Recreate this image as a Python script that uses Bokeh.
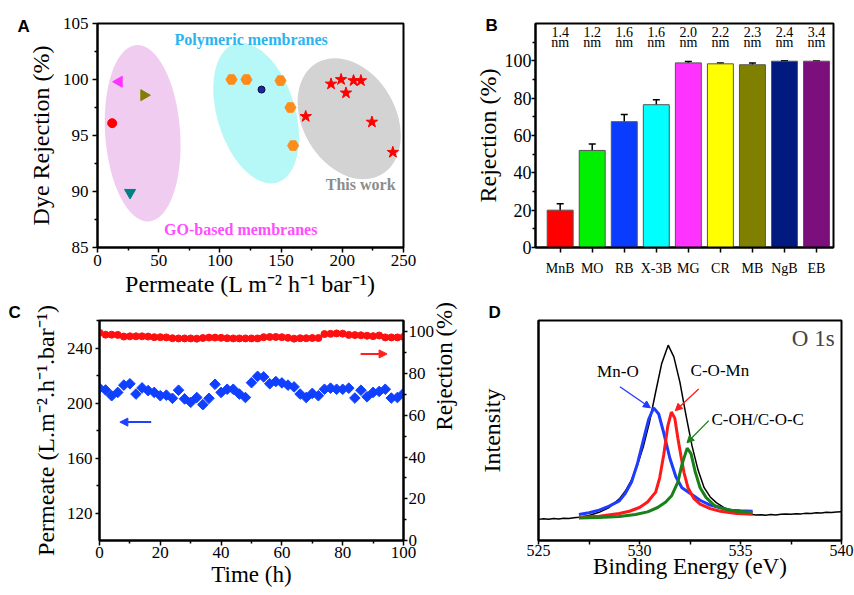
import math
from bokeh.plotting import figure
from bokeh.layouts import row, column
from bokeh.models import (Range1d, LinearAxis, FixedTicker, Label, Arrow, NormalHead,
                          Whisker, ColumnDataSource)
from bokeh.core.properties import value
from bokeh.embed import file_html
from bokeh.resources import INLINE

SERIF = "Liberation Serif"
SANS = "Liberation Sans"

# ---------------- Panel A data ----------------
go_permeate = [12.0, 17.6, 38.0, 26.6]
go_rejection = [96.1, 99.8, 98.6, 89.9]
poly_permeate = [109.5, 121.7, 149.5, 157.6, 159.8]
poly_rejection = [100.0, 100.0, 99.9, 97.5, 94.1]
sphere_permeate = [134.0]
sphere_rejection = [99.1]
work_permeate = [170.1, 190.8, 199.0, 203.0, 209.2, 215.2, 224.2, 241.3]
work_rejection = [96.7, 99.6, 100.0, 98.8, 99.9, 99.9, 96.2, 93.5]
region_x = [36.9, 129.6, 205.6]
region_y = [95.2, 97.0, 96.5]

# ---------------- Panel B data ----------------
dyes = ["MnB", "MO", "RB", "X-3B", "MG", "CR", "MB", "NgB", "EB"]
dye_sizes = ["1.4", "1.2", "1.6", "1.6", "2.0", "2.2", "2.3", "2.4", "3.4"]
dye_rejection = [20.0, 52.0, 67.4, 76.5, 98.9, 98.4, 97.9, 99.8, 99.8]
dye_error = [3.4, 3.4, 3.8, 2.6, 0.8, 0.5, 1.0, 0.3, 0.1]
dye_colors = ["#FF0000", "#00F000", "#0A3CFF", "#00FFFF", "#FF33FF",
              "#FFFF00", "#808000", "#001A80", "#7B0F7B"]

# ---------------- Panel C data ----------------
time_h = list(range(0, 101, 2))
permeate_c = [210.8, 209.5, 205.3, 207.7, 213.0, 214.0, 206.5, 211.0, 209.0, 207.7,
              205.3, 205.7, 203.4, 209.3, 203.0, 200.5, 204.0, 198.8, 203.4, 213.6,
              207.7, 210.0, 210.0, 206.5, 204.0, 214.8, 219.4, 219.0, 214.0, 215.6,
              214.6, 213.0, 211.7, 206.5, 204.0, 207.0, 205.3, 210.0, 210.8, 210.0,
              210.0, 210.8, 203.6, 209.3, 204.5, 207.7, 208.4, 210.0, 203.6, 204.0,
              207.0]
rejection_c = [99.6, 98.7, 98.7, 98.6, 97.8, 97.9, 97.9, 97.9, 97.8, 97.5,
               97.5, 97.4, 97.0, 96.9, 96.9, 96.9, 96.8, 97.1, 97.3, 97.3,
               97.2, 97.0, 96.9, 96.9, 96.9, 96.9, 96.9, 97.5, 97.6, 97.6,
               97.5, 97.2, 96.8, 97.0, 97.0, 97.1, 97.1, 99.0, 99.1, 99.3,
               99.2, 98.6, 98.5, 98.4, 98.2, 98.0, 98.3, 97.4, 97.4, 97.4,
               97.6]

# ---------------- Panel D data ----------------
be_total = [525.0, 525.25, 525.5, 525.75, 526.0, 526.25, 526.5, 526.75, 527.0, 527.5,
            528.0, 528.5, 529.0, 529.3, 529.6, 529.9, 530.2, 530.5, 530.8, 531.1,
            531.42, 531.7, 532.0, 532.3, 532.6, 532.9, 533.2, 533.5, 533.8, 534.2,
            534.6, 535.0, 535.5, 535.75, 536.0, 536.25, 536.5, 536.75, 537.0, 537.25,
            537.5, 537.75, 538.0, 538.25, 538.5, 538.75, 539.0, 539.25, 539.5, 539.75, 540.0]
int_total = [9.6, 9.9, 9.7, 10.0, 9.8, 10.1, 10.0, 10.3, 10.6, 11.4,
             12.8, 15.0, 18.9, 22.5, 27.5, 34.3, 43.0, 54.0, 67.5, 80.5,
             88.8, 83.5, 72.0, 57.0, 43.0, 32.0, 24.0, 19.8, 17.2, 14.8,
             13.3, 12.5, 11.9, 11.6, 11.7, 11.5, 11.8, 11.6, 11.9, 12.1,
             11.9, 12.2, 12.1, 12.4, 12.3, 12.6, 12.5, 12.8, 12.7, 13.0, 13.1]
be_mno = [527.0, 527.5, 528.0, 528.5, 529.0, 529.3, 529.6, 529.9, 530.2, 530.45,
          530.7, 530.95, 531.2, 531.5, 531.8, 532.1, 532.5, 533.0, 533.5, 534.0,
          534.5, 535.0, 535.6]
int_mno = [11.8, 12.6, 13.8, 15.6, 18.0, 21.5, 26.5, 35.0, 46.0, 55.0,
           60.3, 57.5, 48.9, 37.5, 29.0, 24.0, 21.5, 18.3, 16.1, 14.9,
           13.8, 13.5, 13.3]
be_comn = [527.0, 528.0, 529.0, 529.5, 530.0, 530.4, 530.8, 531.0, 531.2, 531.4,
           531.58, 531.75, 531.9, 532.05, 532.2, 532.4, 532.7, 533.0, 533.5, 534.0,
           534.8, 535.6]
int_comn = [10.4, 11.0, 12.3, 13.3, 15.0, 17.5, 22.0, 28.5, 39.0, 52.0,
            58.4, 55.5, 46.5, 38.5, 31.0, 24.0, 19.0, 16.5, 14.5, 13.3,
            12.3, 11.9]
be_coh = [527.0, 528.0, 529.0, 529.8, 530.4, 530.9, 531.3, 531.6, 531.9, 532.1,
          532.36, 532.55, 532.75, 533.0, 533.3, 533.7, 534.2, 534.8, 535.6]
int_coh = [10.2, 10.4, 10.9, 11.8, 13.0, 15.0, 17.5, 20.5, 26.5, 34.5,
           42.0, 39.5, 31.5, 24.0, 19.5, 16.0, 14.3, 13.3, 12.7]


def style_axis(ax, ticks, minor, size, tick_out=5, minor_out=3, lstand=3, tstand=3,
               title_size="24px"):
    ax.ticker = FixedTicker(ticks=ticks, minor_ticks=minor)
    ax.axis_line_color = "black"
    ax.axis_line_width = 2
    ax.major_tick_line_color = "black"
    ax.major_tick_line_width = 1.5
    ax.major_tick_in = 0
    ax.major_tick_out = tick_out
    ax.minor_tick_line_color = "black"
    ax.minor_tick_line_width = 1.5
    ax.minor_tick_in = 0
    ax.minor_tick_out = minor_out
    ax.major_label_text_font = SERIF
    ax.major_label_text_font_size = size
    ax.major_label_text_color = "black"
    ax.major_label_standoff = lstand
    ax.axis_label_text_font = SERIF
    ax.axis_label_text_font_style = "normal"
    ax.axis_label_text_font_size = title_size
    ax.axis_label_text_color = "black"
    ax.axis_label_standoff = tstand


def base_fig(w, h, xr, yr, l, r, t, b):
    p = figure(width=w, height=h, x_range=xr, y_range=yr, output_backend="svg",
               toolbar_location=None, min_border_left=l, min_border_right=r,
               min_border_top=t, min_border_bottom=b)
    p.grid.visible = False
    p.outline_line_color = "black"
    p.outline_line_width = 2
    p.outline_line_alpha = 1.0
    p.background_fill_color = "white"
    return p


def panel_letter(p, text, offset, standoff, valign="bottom"):
    p.title.text = text
    p.title.align = "left"
    p.title.vertical_align = valign
    p.title.offset = offset
    p.title.standoff = standoff
    p.title.text_font = SANS
    p.title.text_font_style = "bold"
    p.title.text_font_size = "17px"
    p.title.text_color = "black"

# ======================= Panel A =======================
pA = base_fig(427, 303, Range1d(0, 250), Range1d(85, 105), 97, 24, 22, 56)
pA.ellipse(x=region_x, y=region_y, width=[75, 78, 93], height=[177, 145, 129],
           angle=[math.radians(4), math.radians(17), math.radians(30)],
           width_units="screen", height_units="screen",
           fill_color=["#F1CCF1", "#B6F7F7", "#D3D3D3"], line_color=None)
pA.scatter(go_permeate[:1], go_rejection[:1], marker="circle", size=9, color="#FF0000")
pA.scatter(go_permeate[1:2], go_rejection[1:2], marker="triangle", angle=math.pi / 2,
           size=11, color="#FF33FF")
pA.scatter(go_permeate[2:3], go_rejection[2:3], marker="triangle", angle=-math.pi / 2,
           size=11, color="#808000")
pA.scatter(go_permeate[3:], go_rejection[3:], marker="inverted_triangle", size=11,
           color="#008080")
pA.scatter(poly_permeate, poly_rejection, marker="hex", size=11, color="#FF8C1A")
pA.scatter(sphere_permeate, sphere_rejection, marker="circle", size=7,
           fill_color="#1A2A9A", line_color="#0A0A50")
pA.scatter(work_permeate, work_rejection, marker="star", size=12, color="#FF0000")
pA.add_layout(Label(x=125.5, y=103.6, text="Polymeric membranes", text_font=SERIF,
                    text_font_style="bold", text_font_size="16px", text_color="#2AB4F0",
                    text_align="center", text_baseline="middle"))
pA.add_layout(Label(x=215, y=90.6, text="This work", text_font=SERIF,
                    text_font_style="bold", text_font_size="16px", text_color="#8C8C8C",
                    text_align="center", text_baseline="middle"))
pA.add_layout(Label(x=117, y=86.6, text="GO-based membranes", text_font=SERIF,
                    text_font_style="bold", text_font_size="16px", text_color="#FF4DFF",
                    text_align="center", text_baseline="middle"))
style_axis(pA.xaxis[0], [0, 50, 100, 150, 200, 250], [25, 75, 125, 175, 225], "17px",
           lstand=2, tstand=2)
style_axis(pA.yaxis[0], [85, 90, 95, 100, 105], [87.5, 92.5, 97.5, 102.5], "17px",
           lstand=4, tstand=6)
pA.xaxis[0].axis_label = "Permeate (L m\u207b\u00b2 h\u207b\u00b9 bar\u207b\u00b9)"
pA.yaxis[0].axis_label = "Dye Rejection (%)"
panel_letter(pA, "A", -80, -24)

# ======================= Panel B =======================
idx = list(range(len(dyes)))
srcB = ColumnDataSource(dict(x=idx, top=dye_rejection, color=dye_colors,
                             upper=[v + e for v, e in zip(dye_rejection, dye_error)],
                             lower=[v - e for v, e in zip(dye_rejection, dye_error)],
                             size=dye_sizes, nm=["nm"] * len(dyes)))
pB = base_fig(427, 303, Range1d(-0.77, 8.53), Range1d(0, 120), 108, 21, 23, 56)
pB.vbar(x="x", top="top", width=0.81, fill_color="color", line_color="#555555",
        line_width=1, source=srcB)
wh = Whisker(source=srcB, base="x", upper="upper", lower="lower", line_color="black",
             line_width=1.5)
wh.upper_head.size = 7
wh.lower_head.size = 7
wh.upper_head.line_width = 1.5
wh.lower_head.line_width = 1.5
pB.add_layout(wh)
pB.text(x="x", y=115.4, text="size", source=srcB, text_font=value(SERIF),
        text_font_size="14px", text_align="center", text_baseline="middle")
pB.text(x="x", y=109.6, text="nm", source=srcB, text_font=value(SERIF),
        text_font_size="14px", text_align="center", text_baseline="middle")
style_axis(pB.yaxis[0], [0, 20, 40, 60, 80, 100], [10, 30, 50, 70, 90, 110], "18px",
           tick_out=4, minor_out=3, lstand=0, tstand=1)
style_axis(pB.xaxis[0], idx, [], "14px", tick_out=5, lstand=8, tstand=1)
pB.xaxis[0].major_label_overrides = {i: d for i, d in enumerate(dyes)}
pB.yaxis[0].axis_label = "Rejection (%)"
panel_letter(pB, "B", -50, -22)

# ======================= Panel C =======================
pC = base_fig(473, 291, Range1d(0, 100), Range1d(100, 260), 99, 70, 17, 52)
pC.extra_y_ranges = {"rej": Range1d(0, 105.5)}
pC.scatter(time_h, permeate_c, marker="square", angle=math.pi / 4, size=7.5,
           color="#1040FF")
pC.scatter(time_h, rejection_c, marker="circle", size=7, color="#FF1010",
           y_range_name="rej")
right_ax = LinearAxis(y_range_name="rej")
pC.add_layout(right_ax, "right")
style_axis(pC.xaxis[0], [0, 20, 40, 60, 80, 100], [10, 30, 50, 70, 90], "17px",
           lstand=1, tstand=1, title_size="23px")
style_axis(pC.yaxis[0], [120, 160, 200, 240], [140, 180, 220, 260], "17px",
           tick_out=4, lstand=3, tstand=5, title_size="24px")
style_axis(right_ax, [0, 20, 40, 60, 80, 100], [10, 30, 50, 70, 90], "17px",
           tick_out=4, lstand=1, tstand=7, title_size="23px")
pC.xaxis[0].axis_label = "Time (h)"
pC.yaxis[0].axis_label = "Permeate (L.m\u207b\u00b2.h\u207b\u00b9.bar\u207b\u00b9)"
right_ax.axis_label = "Rejection (%)"
right_ax.axis_label_orientation = math.pi / 2
pC.add_layout(Arrow(end=NormalHead(size=8, fill_color="#FF2020", line_color="#FF2020"),
                    x_start=85.9, y_start=235.7, x_end=94.6, y_end=235.7,
                    line_color="#FF2020", line_width=2))
pC.add_layout(Arrow(end=NormalHead(size=8, fill_color="#2040FF", line_color="#2040FF"),
                    x_start=17.0, y_start=186.1, x_end=6.7, y_end=186.1,
                    line_color="#2040FF", line_width=2))
panel_letter(pC, "C", -91, -6, "top")

# ======================= Panel D =======================
pD = base_fig(381, 291, Range1d(525, 540), Range1d(0, 100), 65, 13, 15, 54)
pD.line(be_total, int_total, line_color="black", line_width=1.5)
pD.line(be_mno, int_mno, line_color="#1F3BFF", line_width=3)
pD.line(be_comn, int_comn, line_color="#FF1A1A", line_width=3)
pD.line(be_coh, int_coh, line_color="#1A801A", line_width=3)
style_axis(pD.xaxis[0], [525, 530, 535, 540], [527.5, 532.5, 537.5], "16px",
           tick_out=4, minor_out=4, lstand=0, tstand=-5, title_size="23px")
style_axis(pD.yaxis[0], [], [], "16px", tick_out=0, minor_out=0, lstand=0, tstand=34,
           title_size="24px")
pD.xaxis[0].axis_label = "Binding Energy (eV)"
pD.yaxis[0].axis_label = "Intensity"
for txt, x, y in [("Mn-O", 528.93, 77.0), ("C-O-Mn", 533.98, 77.2),
                  ("C-OH/C-O-C", 535.85, 55.2)]:
    pD.add_layout(Label(x=x, y=y, text=txt, text_font=SERIF, text_font_size="17px",
                        text_align="center", text_baseline="middle", text_color="black"))
pD.add_layout(Label(x=538.6, y=92.0, text="O 1s", text_font=SERIF, text_font_size="23px",
                    text_align="center", text_baseline="middle"))
for (xs, ys, xe, ye, col) in [(529.03, 69.9, 530.54, 60.3, "#1F3BFF"),
                              (532.93, 68.9, 531.77, 59.0, "#FF1A1A"),
                              (533.43, 54.5, 532.35, 44.4, "#1A801A")]:
    pD.add_layout(Arrow(end=NormalHead(size=7, fill_color=col, line_color=col),
                        x_start=xs, y_start=ys, x_end=xe, y_end=ye,
                        line_color=col, line_width=1.3))
panel_letter(pD, "D", -50, -6, "top")

layout = column(row(pA, pB), row(pC, pD))
open("out.html", "w").write(file_html(layout, INLINE))
